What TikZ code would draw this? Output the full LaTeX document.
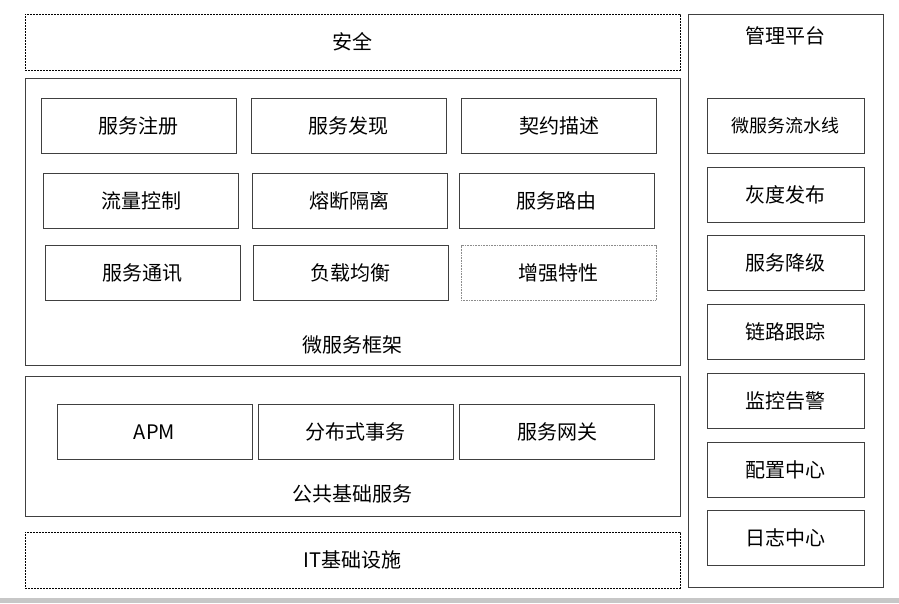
\documentclass[tikz,border=0pt]{standalone}
\usepackage{fontspec}
\setmainfont{Noto Sans CJK SC}
\usetikzlibrary{positioning,matrix}

\begin{document}
\begin{tikzpicture}[x=1pt,y=-1pt,font=\fontsize{20}{24}\selectfont,
        box/.style={draw=black!75,line width=0.9pt,minimum width=195pt,minimum height=55pt,inner sep=0pt,outer sep=0pt},
        layer/.style={draw=black!75,line width=0.9pt,inner sep=0pt},
        dotlayer/.style={draw=black,line width=0.9pt,dash pattern=on 2pt off 1pt,inner sep=0pt},
        label/.style={inner sep=0pt}]
        \useasboundingbox (0,0) rectangle (899,603);
        \fill[black!22] (0,598) rectangle (899,603);
        % layers
        \node (anquan) [dotlayer,minimum width=655pt,minimum height=56pt] at (352.5,42) {安全};
        \node (kuangjia) [layer,minimum width=655pt,minimum height=287pt] at (352.5,221.5) {};
        \node (kuangjiaL) [label] at (352.5,345) {微服务框架};
        \node (jichu) [layer,minimum width=655pt,minimum height=140pt] at (352.5,446) {};
        \node (jichuL) [label] at (352.5,494) {公共基础服务};
        \node (it) [dotlayer,minimum width=655pt,minimum height=56pt] at (352.5,560) {IT基础设施};
        \node (guanli) [layer,minimum width=195pt,minimum height=573pt] at (785.5,300.5) {};
        \node (guanliL) [label] at (785.5,36) {管理平台};
        % framework
        \node (zhuce) [box] at (138.5,125.5) {服务注册};
        \node (faxian) [box] at (348.5,125.5) {服务发现};
        \node (qiyue) [box] at (559,125.5) {契约描述};
        \node (liuliang) [box] at (141,201) {流量控制};
        \node (rongduan) [box] at (349.5,201) {熔断隔离};
        \node (luyou) [box] at (556.5,201) {服务路由};
        \node (tongxun) [box] at (142.5,273) {服务通讯};
        \node (fuzai) [box] at (350.5,273) {负载均衡};
        \node (zengqiang) [box,draw=black!45,line width=0.7pt,dash pattern=on 1pt off 0.6pt] at (558.5,273) {增强特性};
        % common services
        \node (apm) [box] at (154.5,432) {APM};
        \node (shiwu) [box] at (355.5,432) {分布式事务};
        \node (wangguan) [box] at (557,432) {服务网关};
        % platform
        \matrix (pingtai) [matrix of nodes,nodes={box,minimum width=157pt},inner sep=0pt,outer sep=0pt,row sep=12.8pt,anchor=north] at (785.5,98) {
            |[font=\fontsize{18}{21}\selectfont]| 微服务流水线 \\
            灰度发布 \\
            服务降级 \\
            链路跟踪 \\
            监控告警 \\
            配置中心 \\
            日志中心 \\
        };
\end{tikzpicture}
\end{document}
